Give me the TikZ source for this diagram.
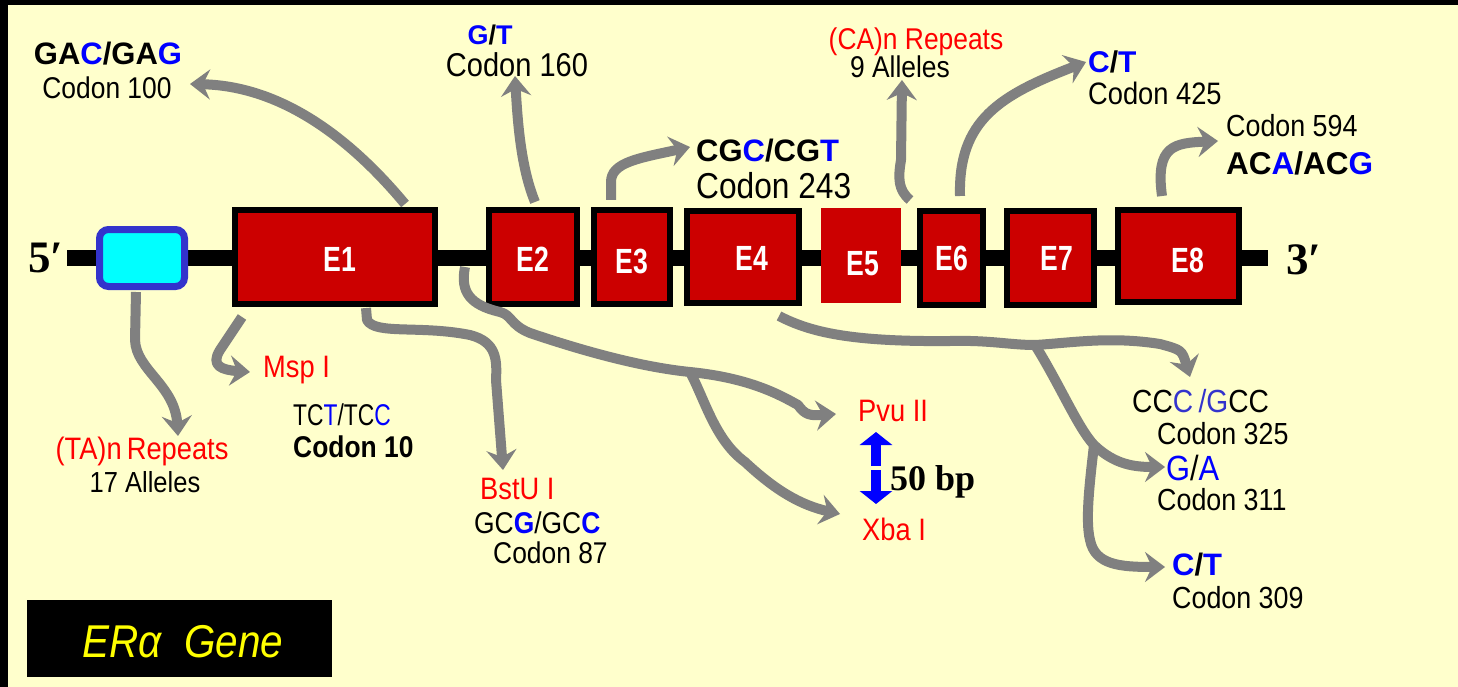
\documentclass[tikz,border=0pt]{standalone}
\usepackage{fontspec}
\setmainfont{Liberation Sans}
\newfontfamily\nar{Liberation Sans}[FakeStretch=0.88]
\newfontfamily\narB{Liberation Sans}[FakeStretch=0.76]
\newfontfamily\tms{Liberation Serif}
\usetikzlibrary{arrows.meta}
\definecolor{bg}{HTML}{FFFFCC}
\definecolor{exred}{HTML}{CC0000}
\definecolor{garr}{HTML}{808080}
\definecolor{tblue}{HTML}{0000FF}
\definecolor{pblue}{HTML}{3333CC}
\definecolor{tred}{HTML}{FF0000}
\definecolor{ylw}{HTML}{FFFF00}
\definecolor{cyanfill}{HTML}{00FFFF}
\newcommand\fs[1]{\fontsize{#1}{#1}\selectfont}
\newcommand\bl[1]{\textcolor{tblue}{#1}}
\begin{document}
\begin{tikzpicture}[x=1pt,y=-1pt,
  exon/.style={draw=black, line width=6pt, fill=exred, inner sep=0pt},
  lbl/.style={text=white, font=\narB\bfseries\fs{35}, inner sep=0pt},
  garrow/.style={draw=garr, line width=10pt, line join=round, -{Stealth[length=20pt,width=30pt,inset=7pt]}},
  bluearr/.style={draw=tblue, line width=10pt, -{Triangle[length=13pt,width=32pt]}},
  txt/.style={inner sep=0pt, anchor=base west}]
\useasboundingbox (0,0) rectangle (1458,687);
\fill[bg] (0,0) rectangle (1458,687);
\fill[black] (0,0) rectangle (1458,5);
\fill[black] (0,0) rectangle (8,687);

% gene line
\coordinate (g5) at (67,258);
\coordinate (g3) at (1268,258);
\draw[line width=16pt] (g5) -- (g3);

% promoter
\node[draw=pblue, line width=7pt, fill=cyanfill, rounded corners=9pt, minimum width=85pt, minimum height=57pt, inner sep=0pt] (prom) at (142,258) {};

% exons
\node[exon, minimum width=200pt, minimum height=94pt] (e1) at (335,257) {};
\node[exon, minimum width=88pt, minimum height=94pt] (e2) at (533,257) {};
\node[exon, minimum width=76pt, minimum height=94pt] (e3) at (632,257) {};
\node[exon, minimum width=112pt, minimum height=92pt] (e4) at (743,257) {};
\node[fill=exred, minimum width=80pt, minimum height=95pt, inner sep=0pt] (e5) at (861,255.5) {};
\node[exon, minimum width=63pt, minimum height=94pt] (e6) at (951.5,258) {};
\node[exon, minimum width=87pt, minimum height=94pt] (e7) at (1050.5,258) {};
\node[exon, minimum width=121pt, minimum height=92pt] (e8) at (1178.5,256) {};

\node[lbl] (l1) at (340,259) {E1};
\node[lbl] (l2) at (533,259) {E2};
\node[lbl] (l3) at (632,261) {E3};
\node[lbl] (l4) at (752,258) {E4};
\node[lbl] (l5) at (863,264) {E5};
\node[lbl] (l6) at (952,258) {E6};
\node[lbl] (l7) at (1057,258) {E7};
\node[lbl] (l8) at (1188,260) {E8};

% end labels
\node[txt] (p5) at (28,272) {\tms\bfseries\fs{45}5′};
\node[txt] (p3) at (1286,274) {\tms\bfseries\fs{45}3′};

% top texts
\node[txt, anchor=base] (t1) at (108,65) {\bfseries\fs{31}GA\bl{C}/GA\bl{G}};
\node[txt, anchor=base] (t2) at (107,99) {\nar\fs{30}Codon 100};
\node[txt, anchor=base] (t3) at (490,45) {\bfseries\fs{27}\bl{G}/\bl{T}};
\node[txt, anchor=base] (t4) at (517,77) {\nar\fs{33}Codon 160};
\node[txt] (t5) at (696,162) {\bfseries\fs{31}CG\bl{C}/CG\bl{T}};
\node[txt] (t6) at (696,198) {\nar\fs{36}Codon 243};
\node[txt, anchor=base] (t7) at (916,50) {\nar\fs{30}\color{tred}(CA)n Repeats};
\node[txt, anchor=base] (t8) at (900,78) {\nar\fs{30}9 Alleles};
\node[txt] (t9) at (1088,73) {\bfseries\fs{30}\bl{C}/\bl{T}};
\node[txt] (t10) at (1088,105) {\nar\fs{31}Codon 425};
\node[txt] (t11) at (1226,137) {\nar\fs{30.5}Codon 594};
\node[txt] (t12) at (1226,175) {\bfseries\fs{31.5}AC\bl{A}/AC\bl{G}};

% bottom texts
\node[txt, anchor=base] (t13) at (142,459) {\nar\fs{31}\color{tred}(TA)n\,Repeats};
\node[txt, anchor=base] (t14) at (145,492) {\nar\fs{29}17 Alleles};
\node[txt] (t15) at (263,377) {\nar\fs{31}\color{tred}Msp I};
\node[txt] (t16) at (293,425) {\narB\fs{30}TC\bl{T}/TC\bl{C}};
\node[txt] (t17) at (293,457) {\nar\bfseries\fs{30}Codon 10};
\node[txt] (t18) at (480,499) {\nar\fs{31}\color{tred}BstU I};
\node[txt] (t19) at (474,533) {\nar\fs{30}GC{\bfseries\bl{G}}/GC{\bfseries\bl{C}}};
\node[txt] (t20) at (493,563) {\nar\fs{30}Codon 87};
\node[txt] (t21) at (858,421) {\nar\fs{31}\color{tred}Pvu II};
\node[txt] (t22) at (890,490) {\tms\bfseries\fs{36}50 bp};
\node[txt] (t23) at (862,540) {\nar\fs{31}\color{tred}Xba I};
\node[txt] (t24) at (1132,412) {\nar\fs{32}CC\textcolor{pblue}{C\,/G}CC};
\node[txt] (t25) at (1157,444) {\nar\fs{30.5}Codon 325};
\node[txt] (t26) at (1166,480) {\nar\fs{35}\bl{G}/\bl{A}};
\node[txt] (t27) at (1157,510) {\nar\fs{30.5}Codon 311};
\node[txt] (t28) at (1172,575) {\bfseries\fs{31}\bl{C}/\bl{T}};
\node[txt] (t29) at (1172,608) {\nar\fs{30.5}Codon 309};

% ER alpha box
\node[fill=black, minimum width=305pt, minimum height=77pt, inner sep=0pt] (erbox) at (179.5,638.5) {};
\node[txt, anchor=base] (ert) at (183,657) {\nar\itshape\fs{46}\textcolor{ylw}{ERα\ \ Gene}};

% scale arrow
\coordinate (bu0) at (876,466);
\coordinate (bu1) at (876,432);
\coordinate (bd0) at (876,470);
\coordinate (bd1) at (876,504);
\draw[bluearr] (bu0) -- (bu1);
\draw[bluearr] (bd0) -- (bd1);

% gray arrows (top)
\coordinate (a1s) at (405,204); \coordinate (a1e) at (190,84);
\draw[garrow] (a1s) .. controls (360,150) and (290,86) .. (a1e);
\coordinate (a2s) at (535,202); \coordinate (a2e) at (515,76);
\draw[garrow] (a2s) .. controls (522,170) and (518,130) .. (a2e);
\coordinate (a3s) at (611,200); \coordinate (a3e) at (690,147);
\draw[garrow] (a3s) -- (611,182) .. controls (611,162) and (640,158) .. (a3e);
\coordinate (a4s) at (910,200); \coordinate (a4e) at (902,80);
\draw[garrow] (a4s) .. controls (898,190) and (898,178) .. (901,160) -- (a4e);
\coordinate (a5s) at (960,196); \coordinate (a5e) at (1086,62);
\draw[garrow] (a5s) .. controls (958,120) and (1000,95) .. (a5e);
\coordinate (a6s) at (1162,196); \coordinate (a6e) at (1218,141);
\draw[garrow] (a6s) .. controls (1155,145) and (1175,143) .. (a6e);

% gray arrows (bottom)
\coordinate (b1s) at (136,292); \coordinate (b1e) at (178,436);
\draw[garrow] (b1s) -- (135,340) .. controls (136,370) and (175,385) .. (b1e);
\coordinate (b2s) at (242,317); \coordinate (b2e) at (250,372);
\draw[garrow] (b2s) -- (220,350) .. controls (210,366) and (222,370) .. (b2e);
\coordinate (b3s) at (366,308); \coordinate (b3e) at (503,470);
\draw[garrow] (b3s) -- (367,320) .. controls (375,335) and (420,325) .. (470,335) .. controls (497,342) and (497,360) .. (496,380) -- (b3e);
\coordinate (b4s) at (465,267); \coordinate (b4e) at (836,414); \coordinate (b4j) at (690,372);
\draw[garrow] (b4s) .. controls (460,292) and (470,305) .. (500,312) .. controls (512,315) and (510,325) .. (530,333) .. controls (580,350) and (640,367) .. (b4j) .. controls (750,378) and (780,395) .. (798,405) .. controls (805,415) and (810,416) .. (b4e);
\coordinate (b5e) at (840,514);
\draw[garrow] (b4j) .. controls (705,400) and (715,440) .. (745,462) .. controls (775,490) and (800,505) .. (b5e);
\coordinate (c1s) at (779,316); \coordinate (c1e) at (1190,377); \coordinate (c1j) at (1035,345);
\draw[garrow] (c1s) .. controls (810,332) and (850,342) .. (950,341) .. controls (990,340) and (1010,345) .. (c1j) .. controls (1070,343) and (1110,336) .. (1160,344) .. controls (1182,350) .. (c1e);
\coordinate (c2e) at (1165,467); \coordinate (c2j) at (1094,445);
\draw[garrow] (c1j) .. controls (1060,385) and (1078,428) .. (c2j) .. controls (1115,465) and (1135,467) .. (c2e);
\coordinate (c3e) at (1165,567);
\draw[garrow] (c2j) .. controls (1090,480) and (1085,520) .. (1090,540) .. controls (1095,565) and (1120,567) .. (c3e);
\end{tikzpicture}
\end{document}
